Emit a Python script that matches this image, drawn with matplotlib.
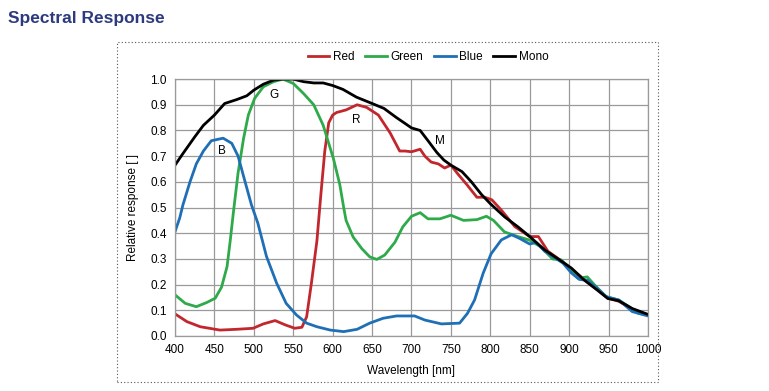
import matplotlib.pyplot as plt
from matplotlib.patches import Rectangle

plt.rcParams['font.family'] = ['Liberation Sans', 'DejaVu Sans']

# values
mono_wl = [400, 410, 425, 436, 450, 463, 478, 491, 500, 512, 525, 537, 550, 563, 576, 588,
           600, 613, 630, 650, 665, 681, 692, 700, 711, 721, 732, 741, 750, 764, 776, 789,
           800, 818, 835, 850, 869, 886, 903, 919, 936, 949, 963, 980, 1000]
mono = [0.665, 0.71, 0.775, 0.82, 0.86, 0.905, 0.92, 0.935, 0.957, 0.98, 0.996, 1.0, 1.0, 0.99,
        0.985, 0.985, 0.975, 0.96, 0.93, 0.905, 0.886, 0.85, 0.827, 0.81, 0.80, 0.76, 0.715,
        0.685, 0.665, 0.64, 0.60, 0.55, 0.515, 0.464, 0.425, 0.387, 0.335, 0.30, 0.264, 0.218,
        0.178, 0.146, 0.137, 0.107, 0.084]

red_wl = [400, 415, 432, 457, 478, 499, 512, 527, 540, 552, 561, 567, 573, 580, 585, 590, 595,
          600, 605, 617, 631, 643, 658, 673, 685, 692, 700, 711, 717, 725, 734, 742, 750, 759,
          770, 783, 793, 802, 814, 831, 850, 861, 873, 890, 903, 919, 936, 949, 963, 980, 1000]
red = [0.086, 0.056, 0.036, 0.023, 0.026, 0.03, 0.047, 0.06, 0.043, 0.03, 0.034, 0.075, 0.205,
       0.37, 0.55, 0.72, 0.83, 0.86, 0.87, 0.88, 0.90, 0.89, 0.86, 0.79, 0.72, 0.72, 0.717,
       0.727, 0.70, 0.677, 0.67, 0.654, 0.665, 0.63, 0.59, 0.54, 0.54, 0.53, 0.49, 0.426, 0.387,
       0.387, 0.33, 0.293, 0.26, 0.22, 0.18, 0.148, 0.135, 0.105, 0.082]

green_wl = [400, 413, 427, 440, 451, 459, 466, 470, 474, 480, 487, 493, 501, 512, 525, 537, 550,
            563, 576, 588, 601, 609, 614, 617, 626, 637, 647, 656, 666, 679, 689, 700, 711, 721,
            736, 750, 766, 783, 795, 804, 818, 835, 850, 864, 879, 890, 903, 911, 923, 934, 947,
            963, 976, 988, 1000]
green = [0.16, 0.127, 0.114, 0.13, 0.147, 0.19, 0.27, 0.37, 0.48, 0.635, 0.77, 0.86, 0.925, 0.97,
         0.99, 1.0, 0.983, 0.944, 0.90, 0.82, 0.69, 0.59, 0.5, 0.45, 0.385, 0.34, 0.308, 0.298,
         0.315, 0.365, 0.425, 0.466, 0.48, 0.456, 0.456, 0.47, 0.45, 0.453, 0.466, 0.45, 0.405,
         0.387, 0.373, 0.347, 0.30, 0.296, 0.257, 0.225, 0.23, 0.193, 0.153, 0.14, 0.114, 0.088,
         0.082]

blue_wl = [400, 406, 410, 419, 427, 436, 446, 461, 472, 480, 488, 497, 505, 516, 529, 541, 554,
           567, 580, 597, 614, 631, 647, 664, 681, 692, 704, 717, 738, 761, 771, 780, 791, 801,
           814, 827, 837, 850, 858, 869, 879, 892, 903, 913, 923, 934, 947, 963, 980, 1000]
blue = [0.406, 0.46, 0.51, 0.60, 0.67, 0.72, 0.76, 0.77, 0.75, 0.70, 0.61, 0.51, 0.44, 0.31,
        0.205, 0.127, 0.082, 0.05, 0.036, 0.023, 0.017, 0.026, 0.05, 0.069, 0.078, 0.078, 0.078,
        0.062, 0.047, 0.05, 0.088, 0.14, 0.245, 0.32, 0.374, 0.394, 0.38, 0.358, 0.364, 0.33,
        0.31, 0.284, 0.245, 0.22, 0.217, 0.19, 0.153, 0.14, 0.095, 0.078]

x_ticks = list(range(400, 1001, 50))
y_ticks = [i / 10 for i in range(11)]

# curve letters
letters = ['B', 'G', 'R', 'M']
letter_x = [460, 525, 630, 736]
letter_y = [0.72, 0.94, 0.84, 0.76]

fig = plt.figure(figsize=(7.69, 3.91), dpi=100)
ax = fig.add_axes([0.2276, 0.1407, 0.615, 0.657])

ax.plot(red_wl, red, color='#c1272d', lw=2, label='Red', solid_joinstyle='round')
ax.plot(green_wl, green, color='#2faa4a', lw=2, label='Green', solid_joinstyle='round')
ax.plot(blue_wl, blue, color='#1f6fb6', lw=2, label='Blue', solid_joinstyle='round')
ax.plot(mono_wl, mono, color='black', lw=2, label='Mono', solid_joinstyle='round')

for t, x, y in zip(letters, letter_x, letter_y):
    ax.text(x, y, t, fontsize=8.5, ha='center', va='center')

ax.set_xlim(400, 1000)
ax.set_ylim(0, 1.0)
ax.set_xticks(x_ticks)
ax.set_yticks(y_ticks)
ax.set_yticklabels([f'{v:.1f}' for v in y_ticks])
ax.tick_params(length=0, labelsize=8.5, pad=6)
ax.grid(True, color='#9a9a9a', lw=0.9)
ax.set_axisbelow(True)
for s in ax.spines.values():
    s.set_color('#9a9a9a')
    s.set_linewidth(0.9)
ax.set_xlabel('Wavelength [nm]', fontsize=8.5, labelpad=6)
ax.set_ylabel('Relative response [ ]', fontsize=8.5, labelpad=8)

ax.legend(loc='center', bbox_to_anchor=(0.535, 1.085), ncol=4, frameon=False,
          fontsize=8.5, handlelength=1.85, columnspacing=0.9, handletextpad=0.3)

# dotted frame and title
fig.patches.append(Rectangle((117 / 769, 1 - 382 / 391), 541 / 769, 340 / 391,
                             transform=fig.transFigure, fill=False, ls=(0, (1, 2)),
                             lw=0.8, ec='#555555'))
fig.text(8 / 769, 1 - 19 / 391, 'Spectral Response', fontsize=12.5, fontweight='bold',
         color='#2d3a7f', va='center', ha='left')

fig.savefig('out.png', dpi=100)
